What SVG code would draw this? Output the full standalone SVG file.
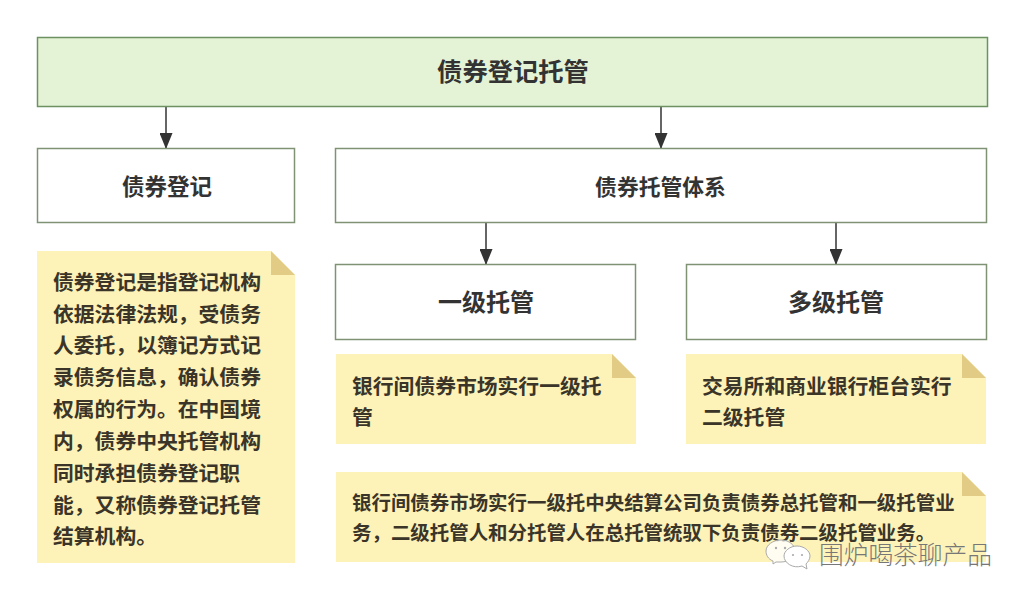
<svg xmlns="http://www.w3.org/2000/svg" width="1026" height="600" viewBox="0 0 1026 600">
<style>
text{font-family:"Noto Sans CJK SC","Noto Sans",sans-serif;fill:#333}
.box{fill:#fff;stroke:#7f9273;stroke-width:1.5}
.note{fill:#fdf2b8}
.fold{fill:#e2cc85}
.t{font-weight:700;text-anchor:middle}
.n{font-weight:700;font-size:20.8px;fill:#3a3528}
.s{font-size:19.45px}
.c{stroke:#333;stroke-width:1.5;fill:none;marker-end:url(#arrow)}
.b{fill:#fff;stroke:#aaa;stroke-width:1}
.d{fill:#aaa}
</style>
<defs><marker id="arrow" markerUnits="userSpaceOnUse" markerWidth="16" markerHeight="13" refX="16" refY="6.500" orient="auto" viewBox="0 0 16 13"><path d="M0 0L16 6.500L0 13Z" fill="#333"/></marker></defs>
<rect width="1026" height="600" fill="#fff"/>
<g id="connectors">
<path class="c" d="M166 107V149"/>
<path class="c" d="M661 107V149"/>
<path class="c" d="M486 223V265"/>
<path class="c" d="M836 223V265"/>
</g>
<g id="root"><rect x="37.500" y="37.500" width="950" height="69" fill="#e4f3d6" stroke="#6d9160" stroke-width="1.500"/><text class="t" x="513" y="81" font-size="25.300">债券登记托管</text></g>
<g id="reg"><rect class="box" x="37.500" y="148.500" width="257" height="74"/><text class="t" x="167" y="195" font-size="22.500">债券登记</text></g>
<g id="sys"><rect class="box" x="335.500" y="148.500" width="651" height="74"/><text class="t" x="660.500" y="195" font-size="21.800">债券托管体系</text></g>
<g id="l1"><rect class="box" x="335.500" y="264.500" width="300" height="75"/><text class="t" x="486" y="311" font-size="24">一级托管</text></g>
<g id="lm"><rect class="box" x="686.500" y="264.500" width="300" height="75"/><text class="t" x="836" y="311" font-size="24">多级托管</text></g>
<g id="note-reg"><path class="note" d="M37 251H271L295 275V563H37Z"/><path class="fold" d="M271 251L295 275H271Z"/>
<text class="n"><tspan x="53" y="290">债券登记是指登记机构</tspan><tspan x="53" y="322">依据法律法规，受债务</tspan><tspan x="53" y="353">人委托，以簿记方式记</tspan><tspan x="53" y="385">录债务信息，确认债券</tspan><tspan x="53" y="417">权属的行为。在中国境</tspan><tspan x="53" y="449">内，债券中央托管机构</tspan><tspan x="53" y="481">同时承担债券登记职</tspan><tspan x="53" y="513">能，又称债券登记托管</tspan><tspan x="53" y="544">结算机构。</tspan></text></g>
<g id="note-l1"><path class="note" d="M336 354H612L636 378V444H336Z"/><path class="fold" d="M612 354L636 378H612Z"/>
<text class="n"><tspan x="352" y="394">银行间债券市场实行一级托</tspan><tspan x="352" y="425">管</tspan></text></g>
<g id="note-lm"><path class="note" d="M686 354H962L986 378V444H686Z"/><path class="fold" d="M962 354L986 378H962Z"/>
<text class="n"><tspan x="702" y="394">交易所和商业银行柜台实行</tspan><tspan x="702" y="425">二级托管</tspan></text></g>
<g id="note-all"><path class="note" d="M336 472H962L986 496V562H336Z"/><path class="fold" d="M962 472L986 496H962Z"/>
<text class="n s"><tspan x="352" y="510">银行间债券市场实行一级托中央结算公司负责债券总托管和一级托管业</tspan><tspan x="352" y="540">务，二级托管人和分托管人在总托管统驭下负责债券二级托管业务。</tspan></text></g>
<g id="watermark">
<path class="b" d="M781 540c8 0 14 5 14 11c0 6-6 11-14 11l-5 0l-3 2l0-3c-5-2-7-6-7-10c0-6 7-11 15-11Z" fill-opacity=".8"/>
<path class="b" d="M797 546c7 0 13 5 13 10c0 3-2 6-4 8l1 5l-5-3c-9 3-18-3-18-10c0-5 6-10 13-10Z"/>
<circle class="d" cx="776" cy="548" r="1.200"/><circle class="d" cx="785" cy="548" r="1.200"/><circle class="d" cx="793" cy="555" r="1.100"/><circle class="d" cx="802" cy="555" r="1.100"/>
<text x="819" y="564" font-size="24.700" font-weight="300" style="fill:#777">围炉喝茶聊产品</text>
</g>
</svg>
